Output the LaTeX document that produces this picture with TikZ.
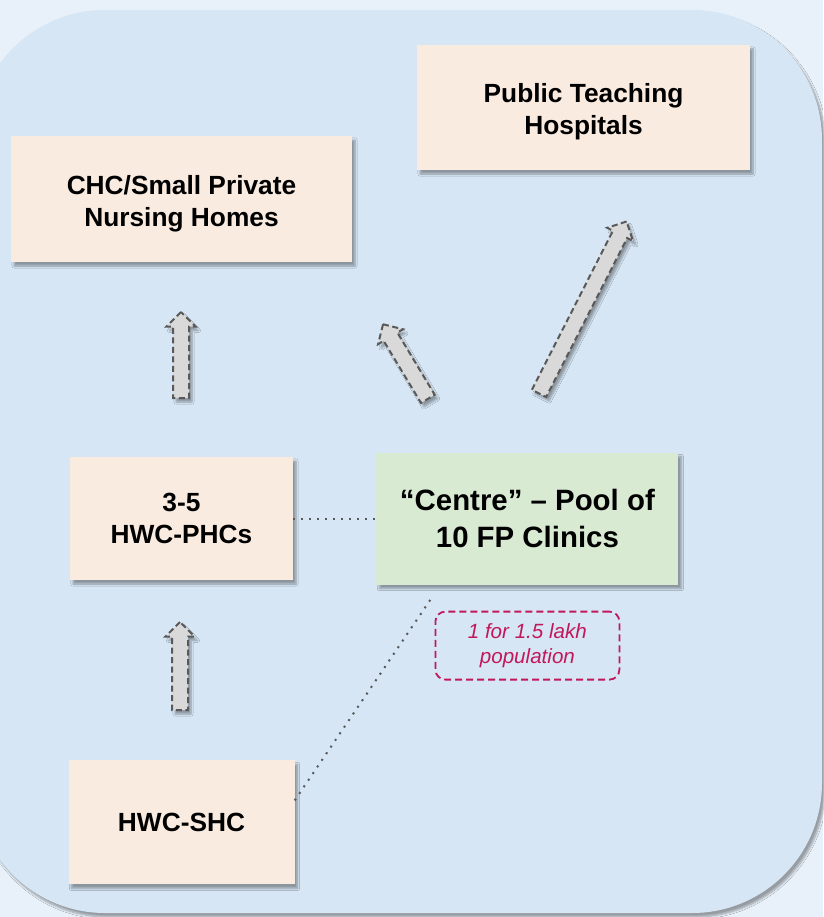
\documentclass[tikz,border=0pt]{standalone}
\usepackage{fontspec}
\setmainfont{Liberation Sans}
\usetikzlibrary{arrows.meta,calc,positioning,shapes.arrows,shadows.blur}
\definecolor{Sky}{HTML}{E8F1FA}
\definecolor{Panel}{HTML}{D6E6F4}
\definecolor{Peach}{HTML}{F9EBE0}
\definecolor{Mint}{HTML}{D9EAD3}
\definecolor{Ash}{HTML}{D9D9D9}
\definecolor{Slate}{HTML}{595959}
\definecolor{Crimson}{HTML}{C2185B}

\begin{document}
\begin{tikzpicture}[
    x=1pt, y=-1pt,
    soft/.style={blur shadow={shadow xshift=3pt, shadow yshift=-4pt, shadow blur steps=6, shadow opacity=35}},
    box/.style={
      fill=Peach, soft, align=center,
      font=\bfseries\fontsize{26.3}{32}\selectfont
    },
    blockarr/.style={
      single arrow, draw=Slate, fill=Ash, dash pattern=on 6pt off 3.5pt,
      line width=2pt, inner xsep=0pt, inner ysep=7pt, minimum width=27pt,
      single arrow head extend=6.5pt, single arrow head indent=0pt, soft
    },
    dotline/.style={draw=Slate, line width=2pt, dash pattern=on 2pt off 6pt},
    note/.style={
      draw=Crimson, dash pattern=on 7pt off 4pt, line width=1.8pt,
      rounded corners=10pt, minimum width=184pt, minimum height=68pt,
      align=center, text=Crimson, font=\itshape\fontsize{20.6}{25}\selectfont
    }
  ]
    \useasboundingbox (0,0) rectangle (823,917);
    \fill[Sky] (0,0) rectangle (823,917);
    \fill[Panel, soft, rounded corners=130pt] (-25,10) rectangle (822,913);

    \node[box, minimum width=333pt, minimum height=125pt, text depth=0pt] (pth) at (583.5,107.5) {\rule{0pt}{22pt}Public Teaching\\Hospitals};
    \node[box, minimum width=341pt, minimum height=126pt, text depth=0pt] (chc) at (181.5,199) {\rule{0pt}{22pt}CHC/Small Private\\Nursing Homes};
    \node[box, minimum width=223pt, minimum height=123pt] (phc) at (181.5,518.5) {3-5\\HWC-PHCs};
    \node[box, fill=Mint, minimum width=302pt, minimum height=132pt, right=83pt of phc,
      font=\bfseries\fontsize{29.4}{37}\selectfont] (centre) {“Centre” – Pool of\\10 FP Clinics};
    \node[box, minimum width=226pt, minimum height=124pt, below=180pt of phc] (shc) {HWC-SHC};
    \node[note, below=26pt of centre] (ratio) {1 for 1.5 lakh\\population};

    \node[blockarr, minimum height=86pt, rotate=90] (upchc) at (181,359) {};
    \node[blockarr, minimum height=88pt, rotate=90] (upphc) at (180,670) {};
    \node[blockarr, minimum height=87pt, rotate=121] (upnurse) at (407.5,365) {};
    \node[blockarr, minimum height=193pt, rotate=63] (upteach) at (581,311) {};

    \coordinate (foot) at ([xshift=-95pt,yshift=-12pt]centre.south);
    \draw[dotline] (phc) -- (centre);
    \draw[dotline] ([yshift=22pt]shc.east) -- (foot);
  \end{tikzpicture}
\end{document}
